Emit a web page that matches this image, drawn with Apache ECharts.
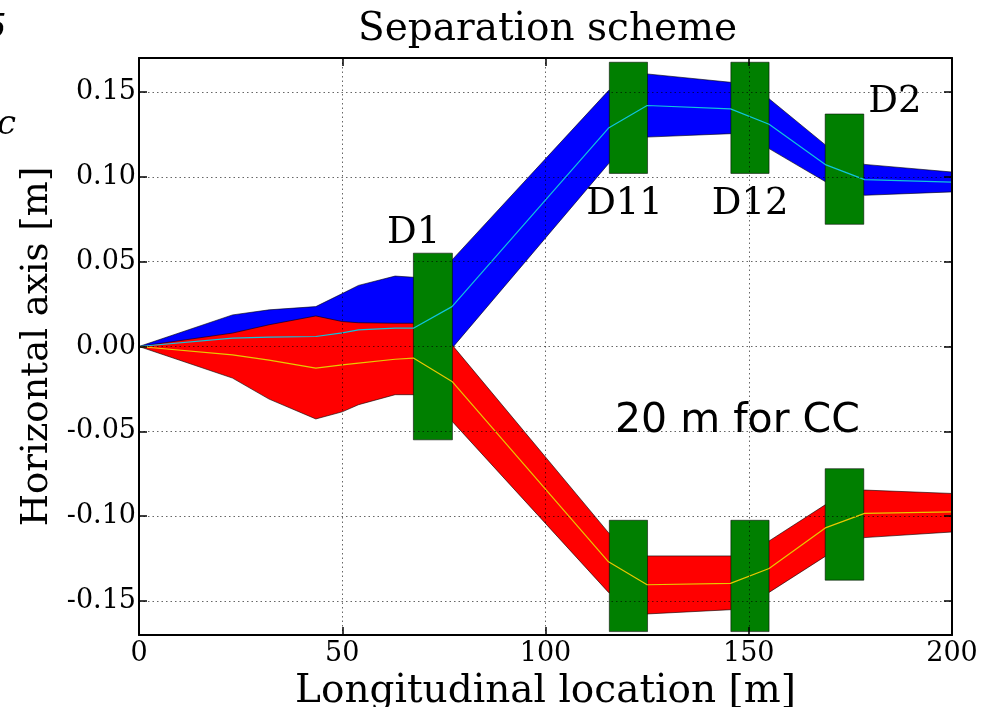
<!DOCTYPE html>
<html>
<head>
<meta charset="utf-8">
<style>
  html, body { margin: 0; padding: 0; background: #ffffff; }
  #chart { width: 1000px; height: 707px; }
</style>
<script src="https://cdn.jsdelivr.net/npm/echarts@6/dist/echarts.min.js"></script>
</head>
<body>
<div id="chart"></div>
<script>
// ---- Data ----
// longitudinal sample positions [m]
const S = [0, 23, 32, 43.5, 50, 54, 63, 67.5, 77, 115.5, 125, 145.5, 155, 169, 178.5, 200];

// upper beam (blue) envelope and centre
const blueUpper  = [0, 0.0186, 0.0216, 0.0235, 0.0312, 0.0360, 0.0415, 0.0408, 0.0510, 0.1508, 0.1606, 0.1557, 0.1460, 0.1185, 0.1073, 0.1028];
const blueCenter = [0, 0.0049, 0.0055, 0.0059, 0.0080, 0.0098, 0.0108, 0.0108, 0.0235, 0.1287, 0.1420, 0.1400, 0.1310, 0.1070, 0.0983, 0.0969];
const blueLower  = [0, -0.0088, -0.0106, -0.0117, -0.0150, -0.0164, -0.0199, -0.0192, -0.0010, 0.1077, 0.1234, 0.1254, 0.1166, 0.0969, 0.0891, 0.0911];

// lower beam (red) envelope and centre
const redUpper  = [0, 0.0079, 0.0128, 0.0180, 0.0147, 0.0140, 0.0137, 0.0137, 0.0010, -0.1097, -0.1234, -0.1234, -0.1146, -0.0930, -0.0846, -0.0866];
const redCenter = [0, -0.0049, -0.0080, -0.0127, -0.0108, -0.0098, -0.0075, -0.0068, -0.0206, -0.1269, -0.1404, -0.1396, -0.1308, -0.1067, -0.0983, -0.0975];
const redLower  = [0, -0.0186, -0.0310, -0.0427, -0.0385, -0.0343, -0.0284, -0.0284, -0.0440, -0.1449, -0.1576, -0.1551, -0.1449, -0.1234, -0.1126, -0.1093];

// dipole magnets: [s start, s end, x low, x high]
const magnetNames = ['D1', 'D11 up', 'D12 up', 'D2 up', 'D11 down', 'D12 down', 'D2 down'];
const magnetS0 = [67.5, 115.7, 145.6, 168.8, 115.7, 145.6, 168.8];
const magnetS1 = [77.1, 125.1, 155.0, 178.3, 125.1, 155.0, 178.3];
const magnetLo = [-0.055, 0.102, 0.102, 0.072, -0.168, -0.168, -0.1377];
const magnetHi = [0.055, 0.1675, 0.1675, 0.137, -0.1024, -0.1024, -0.072];

// annotations: text, anchor s, anchor x
const noteText = ['D1', 'D11', 'D12', 'D2', '20 m for CC'];
const noteS    = [61.0, 110.0, 140.9, 179.4, 117.1];
const noteX    = [0.0665, 0.0840, 0.0840, 0.1440, -0.0440];

// axis ticks
const xTicks = [0, 50, 100, 150, 200];
const yMin = -0.17, yMax = 0.17;

// ---- chart ----
const serif = 'DejaVu Serif';
const chart = echarts.init(document.getElementById('chart'), null, { renderer: 'canvas' });

function bandSeries(name, up, lo, color, z) {
  return {
    name: name,
    type: 'custom',
    z: z,
    silent: true,
    data: S.map((s, i) => [s, up[i], lo[i]]),
    encode: { x: 0, y: [1, 2] },
    renderItem: function (params, api) {
      if (params.dataIndexInside !== 0) return null;
      const n = params.dataInsideLength;
      const top = [], bot = [];
      for (let i = 0; i < n; i++) {
        const s = api.value(0, i);
        top.push(api.coord([s, api.value(1, i)]));
        bot.push(api.coord([s, api.value(2, i)]));
      }
      return {
        type: 'polygon',
        shape: { points: top.concat(bot.reverse()) },
        style: { fill: color, stroke: 'rgba(0,0,0,0.75)', lineWidth: 0.8 }
      };
    }
  };
}

function centerSeries(name, c, color) {
  return {
    name: name,
    type: 'line',
    z: 5,
    silent: true,
    data: S.map((s, i) => [s, c[i]]),
    showSymbol: false,
    symbol: 'none',
    lineStyle: { color: color, width: 1.2 }
  };
}

const option = {
  animation: false,
  backgroundColor: '#ffffff',
  title: {
    text: 'Separation scheme',
    left: 353,
    top: 5,
    textStyle: { fontFamily: serif, fontSize: 39, fontWeight: 'normal', color: '#000' }
  },
  grid: { left: 139, right: 48, top: 58, bottom: 72, containLabel: false, outerBoundsMode: 'none' },
  xAxis: [
    {
      type: 'value', min: 0, max: 200, interval: 50, position: 'bottom', z: 6,
      name: 'Longitudinal location [m]', nameLocation: 'middle', nameGap: 22,
      nameTextStyle: { fontFamily: serif, fontSize: 39, color: '#000' },
      axisLine: { show: true, onZero: false, lineStyle: { color: '#000', width: 2 } },
      axisTick: { show: true, inside: true, length: 8, lineStyle: { color: '#000', width: 1.5 } },
      axisLabel: { fontFamily: serif, fontSize: 27, color: '#000', margin: 5 },
      splitLine: { show: true, lineStyle: { color: 'rgba(0,0,0,0.6)', width: 1, type: [1.5, 3] } }
    },
    {
      type: 'value', min: 0, max: 200, interval: 50, position: 'top', z: 6,
      axisLine: { show: true, onZero: false, lineStyle: { color: '#000', width: 2 } },
      axisTick: { show: true, inside: true, length: 8, lineStyle: { color: '#000', width: 1.5 } },
      axisLabel: { show: false },
      splitLine: { show: false }
    }
  ],
  yAxis: [
    {
      type: 'value', min: yMin, max: yMax, splitNumber: 7, position: 'left', z: 6,
      name: 'Horizontal axis [m]', nameLocation: 'middle', nameGap: 82,
      nameTextStyle: { fontFamily: serif, fontSize: 37, color: '#000' },
      axisLine: { show: true, onZero: false, lineStyle: { color: '#000', width: 2 } },
      axisTick: { show: true, inside: true, length: 8, lineStyle: { color: '#000', width: 1.5 } },
      axisLabel: {
        fontFamily: serif, fontSize: 27, color: '#000', margin: 3,
        showMinLabel: false, showMaxLabel: false,
        formatter: function (v) { return v.toFixed(2); }
      },
      splitLine: { show: true, lineStyle: { color: 'rgba(0,0,0,0.6)', width: 1, type: [1.5, 3] } }
    },
    {
      type: 'value', min: yMin, max: yMax, splitNumber: 7, position: 'right', z: 6,
      axisLine: { show: true, onZero: false, lineStyle: { color: '#000', width: 2 } },
      axisTick: { show: true, inside: true, length: 8, lineStyle: { color: '#000', width: 1.5 } },
      axisLabel: { show: false },
      splitLine: { show: false }
    }
  ],
  graphic: [
    { type: 'text', left: -15, top: 12, style: { text: '5', font: 'italic 34px "DejaVu Serif"', fill: '#000' } },
    { type: 'text', left: -3, top: 108, style: { text: 'c', font: 'italic 34px "DejaVu Serif"', fill: '#000' } }
  ],
  series: [
    bandSeries('upper beam', blueUpper, blueLower, '#0000ff', 2),
    bandSeries('lower beam', redUpper, redLower, '#ff0000', 3),
    {
      name: 'dipoles',
      type: 'custom',
      z: 4,
      silent: true,
      data: magnetNames.map((n, i) => [magnetS0[i], magnetS1[i], magnetLo[i], magnetHi[i]]),
      encode: { x: [0, 1], y: [2, 3] },
      renderItem: function (params, api) {
        const p0 = api.coord([api.value(0), api.value(3)]);
        const p1 = api.coord([api.value(1), api.value(2)]);
        return {
          type: 'rect',
          shape: { x: p0[0], y: p0[1], width: p1[0] - p0[0], height: p1[1] - p0[1] },
          style: { fill: '#007f00', stroke: 'rgba(0,0,0,0.55)', lineWidth: 1 }
        };
      }
    },
    centerSeries('upper centre', blueCenter, '#10c4dc'),
    centerSeries('lower centre', redCenter, '#e8c800'),
    {
      name: 'notes',
      type: 'custom',
      z: 7,
      silent: true,
      clip: false,
      data: noteText.map((t, i) => [noteS[i], noteX[i]]),
      encode: { x: 0, y: 1 },
      renderItem: function (params, api) {
        const p = api.coord([api.value(0), api.value(1)]);
        const i = params.dataIndex;
        const isSans = noteText[i] === '20 m for CC';
        return {
          type: 'text',
          x: p[0], y: p[1],
          style: {
            text: noteText[i],
            fill: '#000',
            font: isSans ? '41px "DejaVu Sans"' : '37px "DejaVu Serif"',
            align: 'left',
            verticalAlign: 'middle'
          }
        };
      }
    }
  ]
};

chart.setOption(option);
</script>
</body>
</html>
